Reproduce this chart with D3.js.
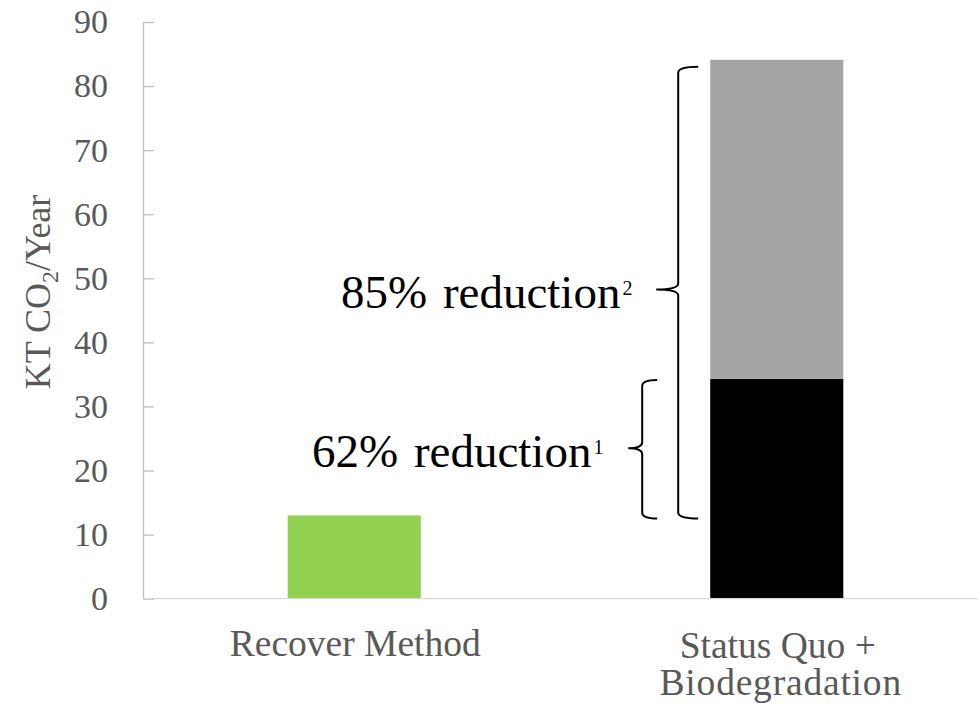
<!DOCTYPE html>
<html>
<head>
<meta charset="utf-8">
<script src="https://cdn.jsdelivr.net/npm/d3@7/dist/d3.min.js"></script>
<style>
  html, body { margin: 0; padding: 0; background: #fff; }
  svg { display: block; }
</style>
</head>
<body>
<script>
// Annual emissions, KT CO2 per year
const categories = ["Recover Method", "Status Quo +\nBiodegradation"];
const recoverValues = [13, 0];          // green bar
const statusQuoValues = [0, 34.3];      // black segment
const biodegradationValues = [0, 49.8]; // grey segment stacked on top
const yTicks = [0, 10, 20, 30, 40, 50, 60, 70, 80, 90];

const width = 978, height = 707;
const margin = { left: 143, right: -10, top: 22, bottom: 108 };
const serif = "Liberation Serif, Times New Roman, serif";

const svg = d3.select("body").append("svg")
  .attr("width", width).attr("height", height);

svg.append("rect").attr("width", width).attr("height", height).attr("fill", "#fff");

const x = d3.scaleBand()
  .domain(categories)
  .range([margin.left, width - margin.right])
  .paddingInner(0.685)
  .paddingOuter(0.3425);

const y = d3.scaleLinear()
  .domain([0, 90])
  .range([height - margin.bottom - 0.3, margin.top]);

// y axis: ticks point inward, labels on the left
const yAxis = d3.axisLeft(y)
  .tickValues(yTicks)
  .tickSizeInner(-11)
  .tickSizeOuter(0)
  .tickPadding(35)
  .tickFormat(d3.format("d"));

const gy = svg.append("g")
  .attr("transform", `translate(${margin.left},0)`)
  .call(yAxis);
gy.select(".domain").attr("stroke", "#bfbfbf").attr("stroke-width", 1.3);
gy.selectAll(".tick line").attr("stroke", "#bfbfbf").attr("stroke-width", 1.3);
gy.selectAll(".tick text")
  .attr("fill", "#595959")
  .attr("font-family", serif)
  .attr("font-size", 34);

// stacked series
const rows = categories.map((c, i) => ({
  cat: c,
  recover: recoverValues[i],
  statusQuo: statusQuoValues[i],
  biodegradation: biodegradationValues[i]
}));
const keys = ["recover", "statusQuo", "biodegradation"];
const colors = { recover: "#92d050", statusQuo: "#000000", biodegradation: "#a5a5a5" };
const stacked = d3.stack().keys(keys)(rows);

svg.append("g").selectAll("g")
  .data(stacked).join("g")
  .attr("fill", d => colors[d.key])
  .selectAll("rect")
  .data(d => d.filter(p => p[1] > p[0]))
  .join("rect")
  .attr("x", d => x(d.data.cat))
  .attr("width", x.bandwidth())
  .attr("y", d => y(d[1]))
  .attr("height", d => y(d[0]) - y(d[1]));

// x axis baseline
svg.append("line")
  .attr("x1", margin.left).attr("x2", width)
  .attr("y1", y(0)).attr("y2", y(0))
  .attr("stroke", "#d9d9d9").attr("stroke-width", 1.3);

// category labels
const catG = svg.append("g")
  .attr("font-family", serif)
  .attr("font-size", 37.5)
  .attr("fill", "#595959")
  .attr("text-anchor", "middle");
categories.forEach((c, ci) => {
  const t = catG.append("text").attr("y", ci ? 658 : 656);
  const lines = c.split("\n");
  lines.forEach((line, i) => {
    t.append("tspan")
      .attr("x", x(c) + x.bandwidth() / 2 + (i ? 4 : 1))
      .attr("dy", i ? 37 : 0)
      .attr("letter-spacing", i ? 0.8 : 0)
      .text(line);
  });
});

// y axis title
const yTitle = svg.append("text")
  .attr("transform", "translate(50,292) rotate(-90)")
  .attr("text-anchor", "middle")
  .attr("fill", "#595959")
  .attr("font-family", serif)
  .attr("font-size", 36);
yTitle.append("tspan").text("KT CO");
yTitle.append("tspan").attr("dy", 8).attr("font-size", 24).text("2");
yTitle.append("tspan").attr("dy", -8).text("/Year");

// curly braces (pointing left)
function brace(xv, y0, y1, ym, hook, tip) {
  const r = 6;
  return `M${xv + hook},${y0} Q${xv},${y0} ${xv},${y0 + r} ` +
         `L${xv},${ym - r} Q${xv},${ym} ${xv - tip},${ym} ` +
         `Q${xv},${ym} ${xv},${ym + r} ` +
         `L${xv},${y1 - r} Q${xv},${y1} ${xv + hook},${y1}`;
}

const recover = recoverValues[0];
const base = statusQuoValues[1];
const total = statusQuoValues[1] + biodegradationValues[1];
const fmt = d3.format(".0%");

const barLeft = x(categories[1]);
// inner brace: recover vs status quo
const b1 = { xv: barLeft - 68, y0: y(base) + 1, y1: y(recover) + 3 };
b1.ym = (b1.y0 + b1.y1) / 2 - 1;
svg.append("path")
  .attr("d", brace(b1.xv, b1.y0, b1.y1, b1.ym, 15, 14))
  .attr("fill", "none").attr("stroke", "#000").attr("stroke-width", 2);

// outer brace: recover vs status quo + biodegradation
const b2 = { xv: barLeft - 32, y0: y(total) + 7, y1: y(recover) + 3 };
b2.ym = (b2.y0 + b2.y1) / 2 - 3;
svg.append("path")
  .attr("d", brace(b2.xv, b2.y0, b2.y1, b2.ym, 20, 22))
  .attr("fill", "none").attr("stroke", "#000").attr("stroke-width", 2);

// reduction labels
function reductionLabel(xs, yb, share, note) {
  const t = svg.append("text")
    .attr("x", xs).attr("y", yb)
    .attr("fill", "#000")
    .attr("font-family", serif)
    .attr("font-size", 47)
    .attr("word-spacing", 4);
  t.append("tspan").text(`${fmt(share)} reduction`);
  t.append("tspan").attr("dx", 2).attr("dy", -13).attr("font-size", 20).text(note);
}
reductionLabel(312, b1.ym + 19, 1 - recover / base, "1");
reductionLabel(341, b2.ym + 18, 1 - recover / total, "2");
</script>
</body>
</html>
